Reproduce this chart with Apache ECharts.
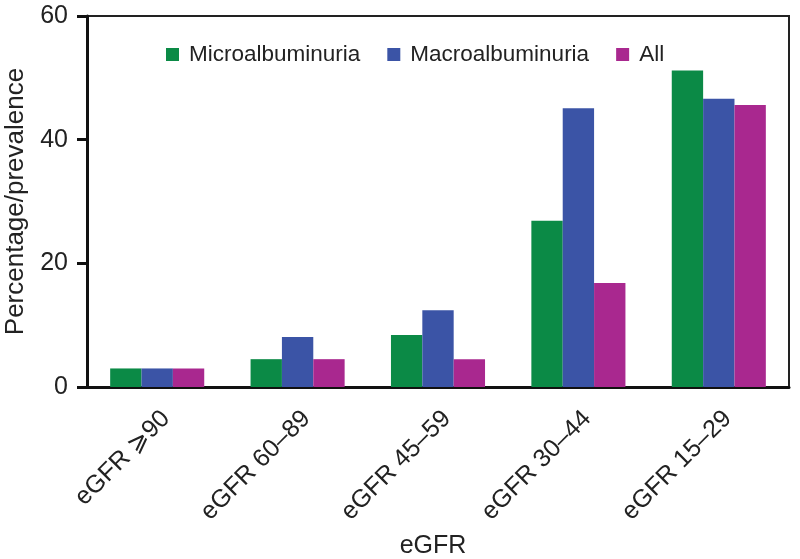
<!DOCTYPE html>
<html>
<head>
<meta charset="utf-8">
<script src="https://cdn.jsdelivr.net/npm/echarts@6/dist/echarts.min.js"></script>
<style>html,body{margin:0;padding:0;background:#fff}#c{width:800px;height:559px}</style>
</head>
<body>
<div id="c"></div>
<script>
var categories = ['eGFR \u2A7E90', 'eGFR 60\u201389', 'eGFR 45\u201359', 'eGFR 30\u201344', 'eGFR 15\u201329'];
var micro = [3, 4.5, 8.4, 26.9, 51.2];
var macro = [3, 8.1, 12.4, 45.1, 46.6];
var all = [3, 4.5, 4.5, 16.8, 45.6];
var yTicks = [0, 20, 40, 60];

var font = 'Liberation Sans, Arial, Helvetica, sans-serif';
var chart = echarts.init(document.getElementById('c'));
chart.setOption({
  animation: false,
  textStyle: {fontFamily: font},
  grid: {left: 87, right: 11, top: 16, bottom: 172, show: true, borderColor: '#222', borderWidth: 2,
    containLabel: false, outerBoundsMode: 'none'},
  legend: {
    top: 38, left: 161, itemWidth: 13, itemHeight: 13, itemGap: 27, icon: 'rect',
    textStyle: {fontSize: 22.5, color: '#222', fontFamily: font, padding: [0, 0, 0, 5]},
    data: ['Microalbuminuria', 'Macroalbuminuria', 'All']
  },
  xAxis: {
    type: 'category', data: categories,
    name: 'eGFR', nameLocation: 'middle', nameGap: 147,
    nameTextStyle: {fontSize: 25, color: '#222', padding: [0, 10, 0, 0]},
    axisLine: {lineStyle: {color: '#111', width: 3}},
    axisTick: {length: 9, lineStyle: {width: 3, color: '#111'}},
    axisLabel: {rotate: 45, fontSize: 25, color: '#222', margin: 19, verticalAlign: 'top'}
  },
  yAxis: {
    type: 'value', min: 0, max: 60, interval: 20,
    name: 'Percentage/prevalence', nameLocation: 'middle', nameGap: 56,
    nameTextStyle: {fontSize: 26, color: '#222'},
    splitLine: {show: false},
    axisLine: {show: true, lineStyle: {color: '#111', width: 3}},
    axisTick: {show: true, length: 10, lineStyle: {width: 3, color: '#111'}},
    axisLabel: {fontSize: 25, color: '#222', margin: 19,
      formatter: function (v) { return yTicks.indexOf(v) >= 0 ? String(v) : ''; }}
  },
  series: [
    {name: 'Microalbuminuria', type: 'bar', data: micro, barGap: '0%', barCategoryGap: '33%', itemStyle: {color: '#0b8a46'}},
    {name: 'Macroalbuminuria', type: 'bar', data: macro, itemStyle: {color: '#3b54a6'}},
    {name: 'All', type: 'bar', data: all, itemStyle: {color: '#a9288f'}}
  ]
});
</script>
</body>
</html>
